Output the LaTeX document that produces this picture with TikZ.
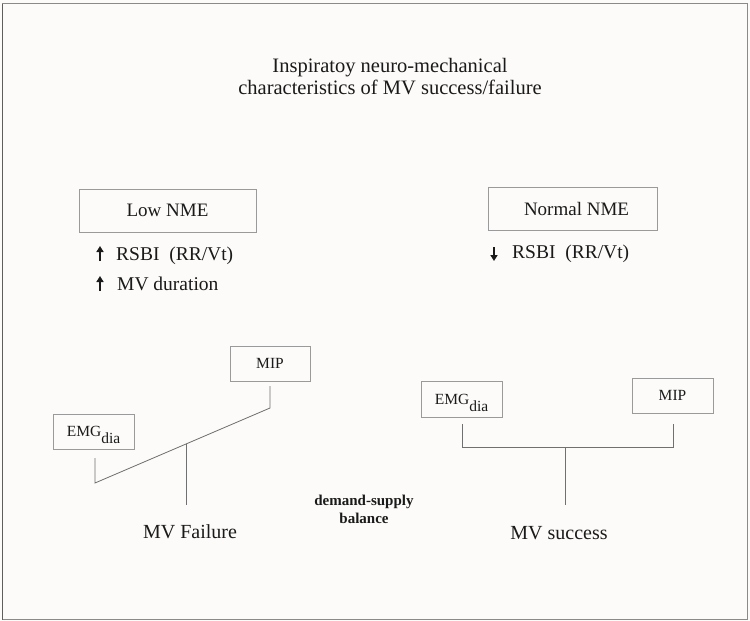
\documentclass[tikz,border=0pt]{standalone}
\usepackage{fontspec}
\setmainfont{Liberation Serif}
\usetikzlibrary{arrows.meta}
\definecolor{bg}{HTML}{FCFBF9}
\definecolor{frame}{HTML}{8A8A8A}
\definecolor{frameleft}{HTML}{5E5E5E}
\definecolor{boxline}{HTML}{9A9A9A}
\definecolor{conn}{HTML}{707070}
\definecolor{ink}{HTML}{1A1A1A}
\tikzset{
  titlebox/.style={draw=boxline, line width=0.8pt, inner sep=0pt, text=ink, font=\fontsize{19}{22}\selectfont},
  smallbox/.style={draw=boxline, line width=0.8pt, inner sep=0pt, minimum width=81pt, minimum height=35pt, text=ink, font=\fontsize{15.5}{18}\selectfont, text depth=0pt},
  txt/.style={text=ink, inner sep=0pt},
  conline/.style={draw=conn, line width=0.8pt},
  updown/.style={line width=1.5pt, ink, -{Triangle[width=7pt,length=6pt]}}
}
\begin{document}
\begin{tikzpicture}[x=1pt,y=-1pt]
\useasboundingbox (0,0) rectangle (750,621);
\fill[bg] (0,0) rectangle (750,621);
\draw[frame, line width=1pt] (2.5,3.5) rectangle (747.5,619.5);
\draw[frameleft, line width=1.8pt] (2.5,3.5) -- (2.5,619.5);

% title
\node[txt, align=center, font=\fontsize{20.5}{22}\selectfont] (title) at (390,77) {Inspiratoy neuro-mechanical\\characteristics of MV success/failure};

% headers
\node[titlebox, minimum width=177pt, minimum height=43pt] (low) at (167.5,210.5) {Low NME};
\node[titlebox, minimum width=169pt, minimum height=43pt] (normal) at (572.5,208.5) {\hspace*{8pt}Normal NME};

% left indicators
\coordinate (a1s) at (100,261);
\coordinate (a1e) at (100,246);
\coordinate (a2s) at (100,291);
\coordinate (a2e) at (100,276);
\draw[updown] (a1s) -- (a1e);
\draw[updown] (a2s) -- (a2e);
\node[txt, anchor=base west, font=\fontsize{19.5}{22}\selectfont] (rsbiL) at (116,260) {RSBI\ \ (RR/Vt)};
\node[txt, anchor=base west, font=\fontsize{19.5}{22}\selectfont] (dur) at (117,290) {MV duration};

% right indicator
\coordinate (a3s) at (494,247);
\coordinate (a3e) at (494,261);
\draw[updown] (a3s) -- (a3e);
\node[txt, anchor=base west, font=\fontsize{19.5}{22}\selectfont] (rsbiR) at (512,258) {RSBI\ \ (RR/Vt)};

% left balance
\node[smallbox, minimum width=80pt] (mipL) at (270,363.5) {MIP};
\node[smallbox] (emgL) at (93.5,431.5) {EMG\raisebox{-7pt}{dia}};
\coordinate (l1) at (95,458);
\coordinate (l2) at (95,483);
\coordinate (l3) at (270,408);
\coordinate (l4) at (270,386);
\coordinate (lm) at (186,444);
\coordinate (lb) at (186,505);
\draw[conline] (l1) -- (l2) -- (l3) -- (l4);
\draw[conline] (lm) -- (lb);
\node[txt, font=\fontsize{20}{22}\selectfont] (fail) at (190,532) {MV Failure};

% right balance
\node[smallbox, minimum height=36pt] (emgR) at (461.5,399) {EMG\raisebox{-7pt}{dia}};
\node[smallbox] (mipR) at (672.5,395.5) {MIP};
\coordinate (r1) at (462,424);
\coordinate (r2) at (462,447);
\coordinate (r3) at (673,447);
\coordinate (r4) at (673,424);
\coordinate (rm) at (565,447);
\coordinate (rb) at (565,505);
\draw[conline] (r1) -- (r2) -- (r3) -- (r4);
\draw[conline] (rm) -- (rb);
\node[txt, font=\fontsize{20}{22}\selectfont] (succ) at (559,533) {MV success};

% middle label
\node[txt, align=center, font=\bfseries\fontsize{15}{18}\selectfont] (dsb) at (364,509) {demand-supply\\balance};
\end{tikzpicture}
\end{document}
